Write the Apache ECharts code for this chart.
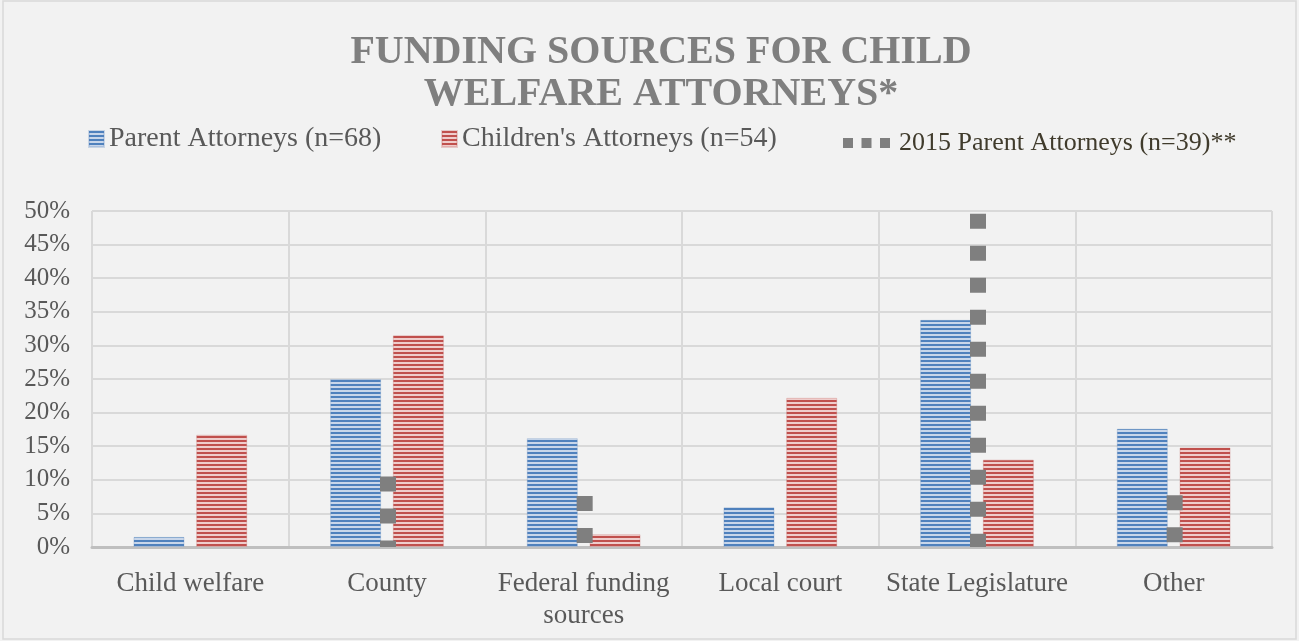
<!DOCTYPE html>
<html>
<head>
<meta charset="utf-8">
<script src="https://cdn.jsdelivr.net/npm/echarts@6/dist/echarts.min.js"></script>
<style>
html,body{margin:0;padding:0;background:#f2f2f2;}
#chart{width:1299px;height:641px;}
</style>
</head>
<body>
<div id="chart"></div>
<script>
const categories = ['Child welfare', 'County', 'Federal funding\nsources', 'Local court', 'State Legislature', 'Other'];
const parentAttorneys = [1.5, 25.0, 16.2, 5.9, 33.8, 17.6];
const childrensAttorneys = [16.7, 31.5, 1.9, 22.2, 13.0, 14.8];
const parent2015 = [0, 10.5, 7.6, 0, 49.6, 7.7];
const yTicks = [0, 5, 10, 15, 20, 25, 30, 35, 40, 45, 50];
const seriesNames = ['Parent Attorneys (n=68)', "Children's Attorneys (n=54)", '2015 Parent Attorneys (n=39)**'];

function stripes(dark, light) {
  const c = document.createElement('canvas');
  c.width = 4; c.height = 4;
  const g = c.getContext('2d');
  g.fillStyle = light; g.fillRect(0, 0, 4, 4);
  g.fillStyle = dark; g.fillRect(0, 0, 4, 2);
  return { image: c, repeat: 'repeat' };
}
const bluePat = stripes('#4f81bd', '#c8d6ea');
const redPat = stripes('#c0504d', '#efcdcc');
const FONT = 'Liberation Serif';

const chart = echarts.init(document.getElementById('chart'), null, { renderer: 'canvas' });
chart.setOption({
  backgroundColor: '#f2f2f2',
  animation: false,
  title: {
    text: 'FUNDING SOURCES FOR CHILD\nWELFARE ATTORNEYS*',
    left: 656, textAlign: 'center', top: 27,
    textStyle: { fontFamily: FONT, fontWeight: 'bold', fontSize: 40, lineHeight: 42, color: '#7f7f7f' }
  },
  legend: [
    { data: [{ name: seriesNames[0], icon: 'rect' }], left: 88, top: 125, padding: 0, itemWidth: 15, itemHeight: 16,
      textStyle: { fontFamily: FONT, fontSize: 28, color: '#595959' } },
    { data: [{ name: seriesNames[1], icon: 'rect' }], left: 441, top: 125, padding: 0, itemWidth: 15, itemHeight: 16,
      textStyle: { fontFamily: FONT, fontSize: 28, color: '#595959' } },
    { data: [{ name: seriesNames[2], icon: 'path://M0,0H10V10H0Z M18.5,0H28.5V10H18.5Z M37,0H47V10H37Z' }],
      left: 843, top: 130, padding: 0, itemWidth: 47, itemHeight: 10,
      textStyle: { fontFamily: FONT, fontSize: 26, color: '#403b2c', padding: [0, 0, 0, 4] } }
  ],
  grid: { left: 92, right: 27, top: 211, bottom: 94, containLabel: false },
  xAxis: {
    type: 'category', data: categories,
    axisTick: { show: false },
    axisLine: { lineStyle: { color: '#bfbfbf', width: 3 } },
    splitLine: { show: true, lineStyle: { color: '#d9d9d9', width: 2 } },
    axisLabel: { fontFamily: FONT, fontSize: 27, color: '#595959', margin: 21, lineHeight: 32, interval: 0 }
  },
  yAxis: {
    type: 'value', min: yTicks[0], max: yTicks[yTicks.length - 1], interval: 5,
    axisLine: { show: false }, axisTick: { show: false },
    splitLine: { lineStyle: { color: '#d9d9d9', width: 2 } },
    axisLabel: { fontFamily: FONT, fontSize: 25, color: '#595959', margin: 22, formatter: '{value}%' }
  },
  series: [
    { name: seriesNames[0], type: 'bar', data: parentAttorneys, barWidth: 51, barGap: '23%',
      itemStyle: { color: bluePat, borderColor: 'rgba(79,129,189,0.25)', borderWidth: 1 } },
    { name: seriesNames[1], type: 'bar', data: childrensAttorneys, barWidth: 51, barGap: '23%',
      itemStyle: { color: redPat, borderColor: 'rgba(192,80,77,0.25)', borderWidth: 1 } },
    { name: seriesNames[2], type: 'custom', z: 5, data: parent2015,
      itemStyle: { color: '#7f7f7f' },
      renderItem: function (params, api) {
        const v = api.value(1);
        if (!v) return null;
        const top = api.coord([api.value(0), v]);
        const bot = api.coord([api.value(0), 0]);
        return {
          type: 'line',
          shape: { x1: top[0] + 1, y1: top[1], x2: bot[0] + 1, y2: bot[1] },
          style: { stroke: '#7f7f7f', lineWidth: 16, lineDash: [15, 17], lineCap: 'butt' }
        };
      },
      encode: { x: 0, y: 1 }
    }
  ],
  graphic: [
    { type: 'rect', shape: { x: 3, y: 1, width: 1293, height: 638 }, style: { fill: null, stroke: '#d9d9d9', lineWidth: 1.5 }, silent: true }
  ]
});
</script>
</body>
</html>
